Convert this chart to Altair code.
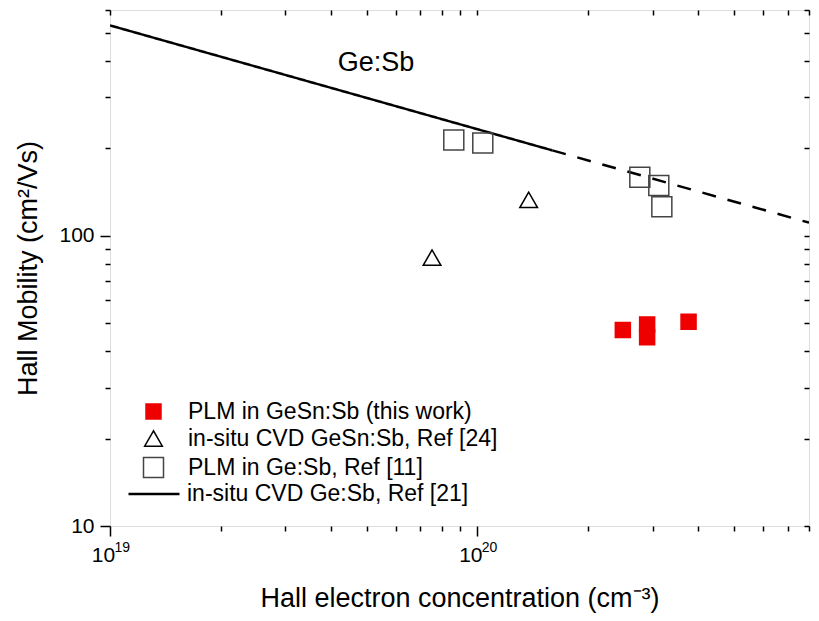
import altair as alt
import pandas as pd

# ---- data ----
plm_gesn_n = [2.49e20, 2.90e20, 2.90e20, 3.76e20]
plm_gesn_mu = [47.4, 49.5, 44.7, 50.6]

cvd_gesn_n = [7.53e19, 1.38e20]
cvd_gesn_mu = [84.1, 133.0]

plm_ge_n = [8.63e19, 1.035e20, 2.77e20, 3.12e20, 3.18e20]
plm_ge_mu = [214.0, 209.0, 159.0, 149.0, 126.0]

cvd_ge_solid_n = [1e19, 1.6e20]
cvd_ge_solid_mu = [531.0, 197.0]
cvd_ge_dash_n = [1.6e20, 8e20]
cvd_ge_dash_mu = [197.0, 111.0]

series_labels = [
    "PLM in GeSn:Sb (this work)",
    "in-situ CVD GeSn:Sb, Ref [24]",
    "PLM in Ge:Sb, Ref [11]",
]
line_label = "in-situ CVD Ge:Sb, Ref [21]"

annot_text = ["Ge:Sb"]
annot_n = [5.3e19]
annot_mu = [395.0]

x_ticks = [1e19, 2e19, 3e19, 4e19, 5e19, 6e19, 7e19, 8e19, 9e19,
           1e20, 2e20, 3e20, 4e20, 5e20, 6e20, 7e20, 8e20]
x_major = [1e19, 1e20]
y_ticks = [10, 20, 30, 40, 50, 60, 70, 80, 90, 100, 200, 300, 400, 500, 600]

FONT = "Liberation Sans"

# ---- tables ----
pts = pd.DataFrame({
    "n": plm_gesn_n + cvd_gesn_n + plm_ge_n,
    "mu": plm_gesn_mu + cvd_gesn_mu + plm_ge_mu,
    "series": [series_labels[0]] * len(plm_gesn_n)
    + [series_labels[1]] * len(cvd_gesn_n)
    + [series_labels[2]] * len(plm_ge_n),
})
line = pd.DataFrame({
    "n": cvd_ge_solid_n + cvd_ge_dash_n,
    "mu": cvd_ge_solid_mu + cvd_ge_dash_mu,
    "seg": ["solid"] * 2 + ["dash"] * 2,
    "lname": [line_label] * 4,
})
annot = pd.DataFrame({"n": annot_n, "mu": annot_mu, "t": annot_text})

xscale = alt.Scale(type="log", domain=[1e19, 8e20], nice=False)
yscale = alt.Scale(type="log", domain=[10, 600], nice=False)

major_test = "abs(log(datum.value)/LN10 - round(log(datum.value)/LN10)) < 0.001"

x_bottom = alt.Axis(
    orient="bottom", values=x_ticks, grid=False, domain=False,
    labelExpr="(datum.value == 1e19 || datum.value == 1e20) ? '10' : ''",
    labelFlush=False, labelOverlap=False, labelOffset=-7,
    tickSize={"condition": {"test": major_test, "value": 10}, "value": 5},
    tickColor="black", tickWidth=1.5,
    labelFont=FONT, labelFontSize=21, labelColor="black", labelPadding=8,
    title="Hall electron concentration (cm⁻³)", titleFont=FONT,
    titleFontSize=27, titleFontWeight="normal", titleColor="black", titlePadding=20,
)
x_exp = alt.Axis(
    orient="bottom", values=x_major, grid=False, domain=False, ticks=False, tickSize=0,
    labelExpr="datum.value == 1e19 ? '19' : '20'",
    labelFlush=False, labelOverlap=False, labelAlign="left", labelOffset=4,
    labelFont=FONT, labelFontSize=14, labelColor="black", labelPadding=14,
    title=None,
)
y_left = alt.Axis(
    orient="left", values=y_ticks, grid=False, domain=False,
    labelExpr="datum.value == 10 ? '10' : (datum.value == 100 ? '100' : '')",
    labelFlush=False, labelOverlap=False,
    tickSize={"condition": {"test": major_test, "value": 10}, "value": 5},
    tickColor="black", tickWidth=1.5,
    labelFont=FONT, labelFontSize=21, labelColor="black", labelPadding=6,
    title="Hall Mobility (cm²/Vs)", titleFont=FONT,
    titleFontSize=27, titleFontWeight="normal", titleColor="black", titlePadding=16,
)
x_top = alt.Axis(orient="top", values=x_ticks, grid=False, domain=False,
                 labels=False, title=None, tickSize=5, offset=-5,
                 tickColor="black", tickWidth=1.5)
y_right = alt.Axis(orient="right", values=y_ticks, grid=False, domain=False,
                   labels=False, title=None, tickSize=5, offset=-5,
                   tickColor="black", tickWidth=1.5)

line_layer = alt.Chart(line).mark_line(strokeWidth=2.5, clip=True).encode(
    x=alt.X("n:Q", scale=xscale, axis=x_bottom),
    y=alt.Y("mu:Q", scale=yscale, axis=y_left),
    color=alt.Color("lname:N", scale=alt.Scale(domain=[line_label], range=["black"]),
                    legend=alt.Legend(title=None, orient="none", legendX=17, legendY=457,
                                      symbolType="stroke", symbolSize=2601,
                                      symbolStrokeWidth=2.5, labelOffset=6, padding=0,
                                      labelFont=FONT, labelFontSize=23,
                                      labelColor="black", labelLimit=400)),
    strokeDash=alt.StrokeDash("seg:N", scale=alt.Scale(domain=["solid", "dash"],
                                                       range=[[1, 0], [14, 12]]),
                              legend=None),
)

pt_legend = alt.Legend(title=None, orient="none", legendX=32, legendY=390,
                       labelOffset=23, rowPadding=3, padding=0,
                       labelFont=FONT, labelFontSize=23, labelColor="black",
                       labelLimit=400, symbolStrokeWidth=1.5)
point_layer = alt.Chart(pts).mark_point(opacity=1, strokeWidth=1.5).encode(
    x=alt.X("n:Q", scale=xscale, axis=x_top),
    y=alt.Y("mu:Q", scale=yscale, axis=y_right),
    shape=alt.Shape("series:N", scale=alt.Scale(domain=series_labels,
                                                range=["square", "triangle-up", "square"]),
                    legend=pt_legend),
    fill=alt.Fill("series:N", scale=alt.Scale(domain=series_labels,
                                              range=["#ee0000", "transparent", "transparent"]),
                  legend=pt_legend),
    stroke=alt.Stroke("series:N", scale=alt.Scale(domain=series_labels,
                                                  range=["#ee0000", "black", "#444444"]),
                      legend=pt_legend),
    size=alt.Size("series:N", scale=alt.Scale(domain=series_labels, range=[225, 400, 170]),
                  legend=pt_legend),
)

text_layer = alt.Chart(annot).mark_text(font=FONT, fontSize=27, color="black").encode(
    x=alt.X("n:Q", scale=xscale, axis=x_exp),
    y=alt.Y("mu:Q", scale=yscale, axis=None),
    text="t:N",
)

chart = alt.layer(line_layer, point_layer, text_layer).properties(
    width=699, height=516,
    autosize=alt.AutoSizeParams(type="none"),
    padding={"left": 110, "top": 10, "right": 10, "bottom": 95},
).resolve_scale(
    shape="shared", fill="shared", stroke="shared", size="shared"
).resolve_axis(
    x="independent", y="independent"
).configure_view(stroke="black", strokeWidth=2).configure(background="white")

chart.save("out.html", embed_options={"renderer": "svg", "actions": False})
